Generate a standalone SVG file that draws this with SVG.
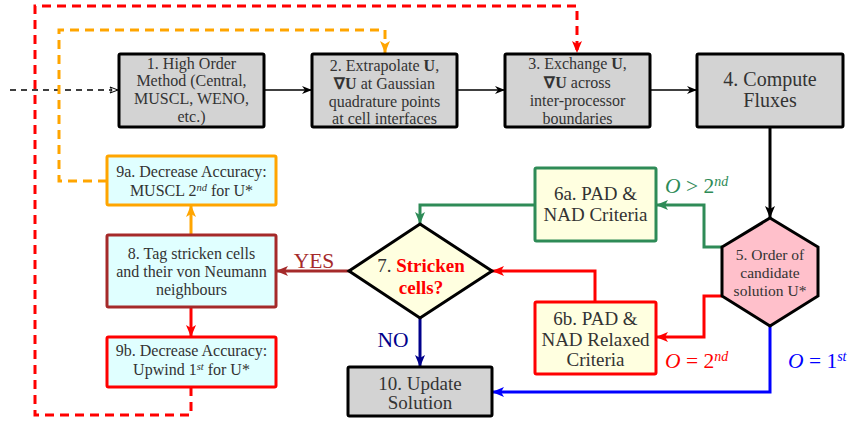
<svg xmlns="http://www.w3.org/2000/svg" width="858" height="423" viewBox="0 0 858 423">
<style>
text{font-family:"Liberation Serif",serif;fill:#333;text-anchor:middle}
.s14{font-size:16px}
.s5{font-size:15.5px}
.s17{font-size:19px}
.s18{font-size:20px}
.box{stroke:#000;stroke-width:3;fill:#d3d3d3}
.cyan{fill:#e0ffff;stroke-width:3}
.ly{fill:#ffffe0;stroke-width:3}
.c{fill:none;stroke-width:3}
.lbl{font-size:21.5px}
.sup{font-size:14px;font-style:italic}
.sups{font-size:10.5px;font-style:italic}
</style>
<defs>
<marker id="ak" markerUnits="userSpaceOnUse" markerWidth="10" markerHeight="8" refX="10" refY="4" orient="auto"><path d="M0,0 L10,4 L0,8 L3,4 z" fill="#000"/></marker>
<marker id="akb" markerUnits="userSpaceOnUse" markerWidth="12" markerHeight="10" refX="12" refY="5" orient="auto"><path d="M0,0 L12,5 L0,10 L3,5 z" fill="#000"/></marker>
<marker id="ao" markerUnits="userSpaceOnUse" markerWidth="12" markerHeight="10" refX="12" refY="5" orient="auto"><path d="M0,0 L12,5 L0,10 L3,5 z" fill="#ffa500"/></marker>
<marker id="ar" markerUnits="userSpaceOnUse" markerWidth="12" markerHeight="10" refX="12" refY="5" orient="auto"><path d="M0,0 L12,5 L0,10 L3,5 z" fill="#ff0000"/></marker>
<marker id="ag" markerUnits="userSpaceOnUse" markerWidth="12" markerHeight="10" refX="12" refY="5" orient="auto"><path d="M0,0 L12,5 L0,10 L3,5 z" fill="#2e8b57"/></marker>
<marker id="abr" markerUnits="userSpaceOnUse" markerWidth="12" markerHeight="10" refX="12" refY="5" orient="auto"><path d="M0,0 L12,5 L0,10 L3,5 z" fill="#a52a2a"/></marker>
<marker id="an" markerUnits="userSpaceOnUse" markerWidth="12" markerHeight="10" refX="12" refY="5" orient="auto"><path d="M0,0 L12,5 L0,10 L3,5 z" fill="#00008b"/></marker>
<marker id="abl" markerUnits="userSpaceOnUse" markerWidth="12" markerHeight="10" refX="12" refY="5" orient="auto"><path d="M0,0 L12,5 L0,10 L3,5 z" fill="#0000ff"/></marker>
<marker id="aopen" markerUnits="userSpaceOnUse" markerWidth="10" markerHeight="8" refX="9" refY="4" orient="auto"><path d="M1,1 L9,4 L1,7 L3,4 z" fill="#fff" stroke="#000" stroke-width="1"/></marker>
</defs>

<g id="connectors">
  <path d="M10,90 H118" fill="none" stroke="#000" stroke-width="1.5" stroke-dasharray="6,5" marker-end="url(#aopen)"/>
  <path d="M264,90 H312" fill="none" stroke="#000" stroke-width="1.5" marker-end="url(#ak)"/>
  <path d="M457,90 H505" fill="none" stroke="#000" stroke-width="1.5" marker-end="url(#ak)"/>
  <path d="M650,90 H697" fill="none" stroke="#000" stroke-width="1.5" marker-end="url(#ak)"/>
  <path d="M770,127 V218" class="c" stroke="#000" marker-end="url(#akb)"/>
  <path d="M722,247 H704 V205 H656" class="c" stroke="#2e8b57" marker-end="url(#ag)"/>
  <path d="M535,205 H420 V224" class="c" stroke="#2e8b57" marker-end="url(#ag)"/>
  <path d="M722,296 H704 V337 H656" class="c" stroke="#ff0000" marker-end="url(#ar)"/>
  <path d="M595,302 V271 H492" class="c" stroke="#ff0000" marker-end="url(#ar)"/>
  <path d="M770,326 V392 H492" class="c" stroke="#0000ff" marker-end="url(#abl)"/>
  <path d="M349,271 H276" class="c" stroke="#a52a2a" marker-end="url(#abr)"/>
  <path d="M420,318 V367" class="c" stroke="#00008b" marker-end="url(#an)"/>
  <path d="M191,235 V205" class="c" stroke="#ffa500" marker-end="url(#ao)"/>
  <path d="M191,307 V337" class="c" stroke="#ff0000" marker-end="url(#ar)"/>
  <path d="M107,181 H59 V30 H385 V53" class="c" stroke="#ffa500" stroke-dasharray="9,6" marker-end="url(#ao)"/>
  <path d="M191,387 V415 H35 V6 H577 V53" class="c" stroke="#ff0000" stroke-dasharray="9,6" marker-end="url(#ar)"/>
  <text class="lbl" x="314" y="268" style="fill:#a52a2a">YES</text>
  <text class="lbl" x="393" y="347" style="fill:#00008b">NO</text>
  <text class="lbl" x="665" y="193" style="fill:#2e8b57;text-anchor:start"><tspan font-style="italic">O</tspan> &gt; 2<tspan class="sup" baseline-shift="super">nd</tspan></text>
  <text class="lbl" x="665" y="368" style="fill:#ff0000;text-anchor:start"><tspan font-style="italic">O</tspan> = 2<tspan class="sup" baseline-shift="super">nd</tspan></text>
  <text class="lbl" x="788" y="368" style="fill:#0000ff;text-anchor:start"><tspan font-style="italic">O</tspan> = 1<tspan class="sup" baseline-shift="super">st</tspan></text>
</g>

<g id="n1">
  <rect class="box" x="119" y="54" width="145" height="73" rx="1.5"/>
  <text class="s14"><tspan x="191.5" y="68.5">1. High Order</tspan><tspan x="191.5" y="86">Method (Central,</tspan><tspan x="191.5" y="104">MUSCL, WENO,</tspan><tspan x="191.5" y="122">etc.)</tspan></text>
</g>
<g id="n2">
  <rect class="box" x="312" y="54" width="145" height="73" rx="1.5"/>
  <text class="s14"><tspan x="384.5" y="70.5">2. Extrapolate <tspan font-weight="bold">U</tspan>,</tspan><tspan x="384.5" y="88.5"><tspan font-weight="bold">∇U</tspan> at Gaussian</tspan><tspan x="384.5" y="106.5">quadrature points</tspan><tspan x="384.5" y="124">at cell interfaces</tspan></text>
</g>
<g id="n3">
  <rect class="box" x="505" y="54" width="145" height="73" rx="1.5"/>
  <text class="s14"><tspan x="577.5" y="69">3. Exchange <tspan font-weight="bold">U</tspan>,</tspan><tspan x="577.5" y="87.5"><tspan font-weight="bold">∇U</tspan> across</tspan><tspan x="577.5" y="105.5">inter-processor</tspan><tspan x="577.5" y="123.5">boundaries</tspan></text>
</g>
<g id="n4">
  <rect class="box" x="697" y="54" width="146" height="73" rx="1.5"/>
  <text class="s18"><tspan x="770" y="86">4. Compute</tspan><tspan x="770" y="107">Fluxes</tspan></text>
</g>
<g id="n5">
  <polygon points="770,218 818,247 818,296 770,326 722,296 722,247" fill="#ffc0cb" stroke="#000" stroke-width="3"/>
  <text class="s5"><tspan x="770" y="260">5. Order of</tspan><tspan x="770" y="278">candidate</tspan><tspan x="770" y="296">solution U*</tspan></text>
</g>
<g id="n6a">
  <rect class="ly" x="535" y="168" width="121" height="73" stroke="#2e8b57" rx="1.5"/>
  <text class="s17"><tspan x="595.5" y="199.5">6a. PAD &amp;</tspan><tspan x="595.5" y="220.5">NAD Criteria</tspan></text>
</g>
<g id="n6b">
  <rect class="ly" x="535" y="302" width="121" height="72" stroke="#ff0000" rx="1.5"/>
  <text class="s17"><tspan x="595.5" y="324.5">6b. PAD &amp;</tspan><tspan x="595.5" y="345.5">NAD Relaxed</tspan><tspan x="595.5" y="366">Criteria</tspan></text>
</g>
<g id="n7">
  <polygon points="420,224 492,271 420,318 349,271" fill="#ffffe0" stroke="#000" stroke-width="3"/>
  <text class="s17"><tspan x="421" y="271.5">7. <tspan font-weight="bold" style="fill:#ff0000">Stricken</tspan></tspan><tspan x="421" y="293.5" font-weight="bold" style="fill:#ff0000">cells?</tspan></text>
</g>
<g id="n8">
  <rect class="cyan" x="107" y="235" width="169" height="72" stroke="#a52a2a" rx="1.5"/>
  <text class="s14"><tspan x="191.5" y="258.5">8. Tag stricken cells</tspan><tspan x="191.5" y="276.5">and their von Neumann</tspan><tspan x="191.5" y="294.5">neighbours</tspan></text>
</g>
<g id="n9a">
  <rect class="cyan" x="107" y="156" width="169" height="49" stroke="#ffa500" rx="1.5"/>
  <text class="s14"><tspan x="191.5" y="177">9a. Decrease Accuracy:</tspan><tspan x="191.5" y="196">MUSCL 2<tspan class="sups" dy="-5">nd</tspan><tspan dy="5"> for U*</tspan></tspan></text>
</g>
<g id="n9b">
  <rect class="cyan" x="107" y="337" width="169" height="50" stroke="#ff0000" rx="1.5"/>
  <text class="s14"><tspan x="191.5" y="356">9b. Decrease Accuracy:</tspan><tspan x="191.5" y="375">Upwind 1<tspan class="sups" dy="-5">st</tspan><tspan dy="5"> for U*</tspan></tspan></text>
</g>
<g id="n10">
  <rect class="box" x="348" y="367" width="144" height="49" rx="1.5"/>
  <text class="s17"><tspan x="420" y="389.5">10. Update</tspan><tspan x="420" y="409">Solution</tspan></text>
</g>
</svg>
